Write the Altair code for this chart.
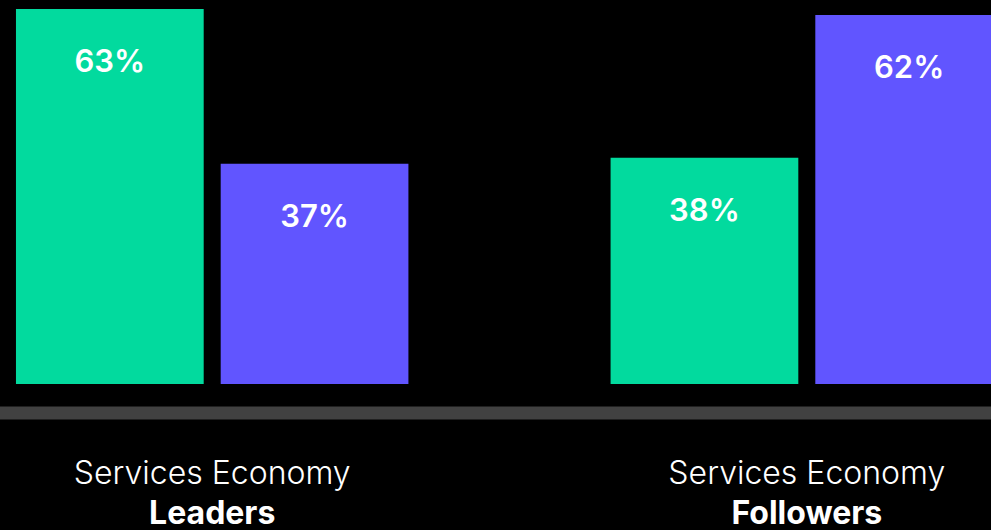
import altair as alt
import pandas as pd

groups = ["Leaders", "Followers"]
series = ["Series A", "Series B"]
leaders_values = [63, 37]
followers_values = [38, 62]
line1 = "Services Economy"
colors = ["#02DA9E", "#6155FF"]

rows = []
for g, vals in zip(groups, [leaders_values, followers_values]):
    for s, v in zip(series, vals):
        rows.append({"group": g, "series": s, "value": v, "label": f"{v}%"})
df = pd.DataFrame(rows)
gdf = pd.DataFrame({"group": groups, "line1": [line1] * len(groups), "line2": groups})

FONT = "Inter"

x_enc = alt.X(
    "group:N",
    sort=groups,
    scale=alt.Scale(range=[-3, 1022], paddingInner=0.34, paddingOuter=0.0319),
    axis=alt.Axis(title=None, labels=False, ticks=False, domainColor="#414141",
                  domainWidth=13, offset=-117.5, grid=False, domainCap="butt"),
)
xo_enc = alt.XOffset("series:N", sort=series,
                     scale=alt.Scale(paddingInner=0.083, paddingOuter=0))
y_enc = alt.Y("value:Q", scale=alt.Scale(domain=[0, 64.5], range=[384, 0]), axis=None)

base = alt.Chart(df).encode(x=x_enc, xOffset=xo_enc, y=y_enc)

bars = base.mark_bar().encode(
    color=alt.Color("series:N", sort=series,
                    scale=alt.Scale(domain=series, range=colors), legend=None)
)

pct = base.mark_text(
    baseline="alphabetic", dy=63, fontSize=31, fontWeight=600, font=FONT, color="white"
).encode(text="label:N")

cat1 = alt.Chart(gdf).mark_text(
    baseline="alphabetic", fontSize=32, fontWeight=300, font=FONT, color="white"
).encode(x=alt.X("group:N", sort=groups), y=alt.value(484), text="line1:N")

cat2 = alt.Chart(gdf).mark_text(
    baseline="alphabetic", fontSize=32, fontWeight=700, font=FONT, color="white"
).encode(x=alt.X("group:N", sort=groups), y=alt.value(524), text="line2:N")

chart = alt.layer(bars, pct, cat1, cat2).properties(
    width=991, height=530, background="black", padding=0,
    autosize=alt.AutoSizeParams(type="none"),
).configure_view(stroke=None)

chart.save("out.html", embed_options={"renderer": "svg", "actions": False})
